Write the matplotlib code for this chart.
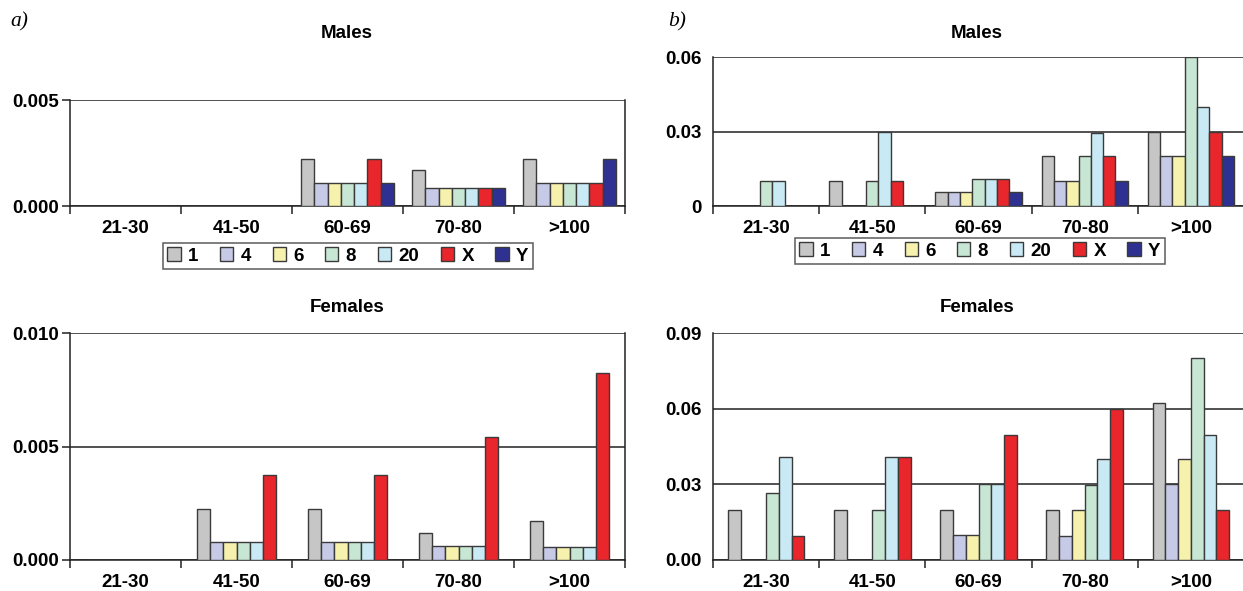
import numpy as np
import matplotlib.pyplot as plt
from matplotlib.patches import Patch

plt.rcParams['font.family'] = ['Liberation Sans', 'DejaVu Sans']
plt.rcParams['font.weight'] = 'bold'

groups = ["21-30", "41-50", "60-69", "70-80", ">100"]
series = ["1", "4", "6", "8", "20", "X", "Y"]
colors = ["#C6C6C6", "#C7CAE6", "#F6F2AE", "#C8E6D4", "#C9EAF4", "#E8262C", "#2E3192"]

# panel a, males (rows = series 1,4,6,8,20,X,Y)
a_males = [
    [0, 0, 0.0022, 0.0017, 0.0022],
    [0, 0, 0.0011, 0.00085, 0.0011],
    [0, 0, 0.0011, 0.00085, 0.0011],
    [0, 0, 0.0011, 0.00085, 0.0011],
    [0, 0, 0.0011, 0.00085, 0.0011],
    [0, 0, 0.0022, 0.00085, 0.0011],
    [0, 0, 0.0011, 0.00085, 0.0022],
]
# panel a, females (series 1,4,6,8,20,X)
a_females = [
    [0, 0.00225, 0.00225, 0.0012, 0.0017],
    [0, 0.00078, 0.00078, 0.00063, 0.00057],
    [0, 0.00078, 0.00078, 0.00063, 0.00057],
    [0, 0.00078, 0.00078, 0.00063, 0.00057],
    [0, 0.00078, 0.00078, 0.00063, 0.00057],
    [0, 0.00373, 0.00373, 0.00542, 0.00824],
]
# panel b, males
b_males = [
    [0, 0.01, 0.0055, 0.02, 0.03],
    [0, 0, 0.0055, 0.01, 0.02],
    [0, 0, 0.0055, 0.01, 0.02],
    [0.01, 0.01, 0.011, 0.02, 0.06],
    [0.01, 0.03, 0.011, 0.0294, 0.04],
    [0, 0.01, 0.011, 0.02, 0.03],
    [0, 0, 0.0055, 0.01, 0.02],
]
# panel b, females
b_females = [
    [0.02, 0.02, 0.02, 0.02, 0.0624],
    [0, 0, 0.0101, 0.0096, 0.03],
    [0, 0, 0.0101, 0.02, 0.0401],
    [0.0264, 0.02, 0.03, 0.0296, 0.08],
    [0.0409, 0.041, 0.03, 0.0401, 0.0497],
    [0.0096, 0.041, 0.0497, 0.06, 0.02],
]

W, H = 1243, 591
FS = 13.5
fig = plt.figure(figsize=(W / 100, H / 100), dpi=100)


def px_axes(left, top, right, bottom):
    return fig.add_axes([left / W, 1 - bottom / H, (right - left) / W, (bottom - top) / H])


def draw(ax, values, ymax, yticks, ylabels, width, ytick_len, right_spine=True):
    x = np.arange(len(groups))
    n = len(values)
    for i, vals in enumerate(values):
        ax.bar(x - width * n / 2 + width * (i + 0.5), vals, width,
               color=colors[i], edgecolor="#3a3a3a", linewidth=1.0, zorder=3)
    ax.set_xlim(-0.5, len(groups) - 0.5)
    ax.set_ylim(0, ymax)
    ax.set_yticks(yticks)
    ax.set_yticklabels(ylabels)
    ax.yaxis.grid(True, color="#222222", linewidth=1.1)
    ax.set_axisbelow(True)
    ax.spines["top"].set_visible(False)
    ax.spines["right"].set_visible(right_spine)
    for s in ["left", "bottom", "right"]:
        ax.spines[s].set_color("#222222")
        ax.spines[s].set_linewidth(1.1)
    ax.set_xticks(np.arange(-0.5, len(groups), 1))
    ax.set_xticklabels([])
    ax.set_xticks(x, minor=True)
    ax.set_xticklabels(groups, minor=True)
    ax.tick_params(axis="x", which="major", length=6, width=1.1, color="#222222")
    ax.tick_params(axis="x", which="minor", length=0, pad=10, labelsize=FS)
    ax.tick_params(axis="y", length=ytick_len, width=1.1, color="#222222",
                   pad=2 if ytick_len else 8, labelsize=FS)
    for lab in ax.get_xticklabels(minor=True) + ax.get_yticklabels():
        lab.set_fontweight("bold")


ax1 = px_axes(70, 100, 625, 206)
draw(ax1, a_males, 0.005, [0, 0.005], ["0.000", "0.005"], 0.119, 6)
ax2 = px_axes(713, 57, 1244, 206)
draw(ax2, b_males, 0.06, [0, 0.03, 0.06], ["0", "0.03", "0.06"], 0.116, 0, False)
ax3 = px_axes(70, 333, 625, 560)
draw(ax3, a_females, 0.010, [0, 0.005, 0.010], ["0.000", "0.005", "0.010"], 0.12, 6)
ax4 = px_axes(713, 333, 1244, 560)
draw(ax4, b_females, 0.09, [0, 0.03, 0.06, 0.09], ["0.00", "0.03", "0.06", "0.09"], 0.12, 0, False)

for xc, yc, t in [(347, 33, "Males"), (977, 33, "Males"), (347, 308, "Females"), (977, 308, "Females")]:
    fig.text(xc / W, 1 - yc / H, t, ha="center", va="center", fontsize=FS, fontweight="bold")

fig.text(10 / W, 1 - 22 / H, "a)", family="Liberation Serif", style="italic",
         fontweight="normal", fontsize=15.5, ha="left", va="center")
fig.text(668 / W, 1 - 22 / H, "b)", family="Liberation Serif", style="italic",
         fontweight="normal", fontsize=15.5, ha="left", va="center")

handles = [Patch(facecolor=c, edgecolor="#3a3a3a", linewidth=1.0) for c in colors]
for xc, yc in [(348, 256), (980, 251)]:
    leg = fig.legend(handles, series, loc="center", bbox_to_anchor=(xc / W, 1 - yc / H),
                     ncol=7, frameon=True, fancybox=False, handlelength=0.7, handleheight=0.7,
                     handletextpad=0.4, columnspacing=1.15, borderpad=0.25, borderaxespad=0,
                     prop={"weight": "bold", "size": FS})
    leg.get_frame().set_edgecolor("#333333")
    leg.get_frame().set_linewidth(1.1)

fig.savefig("out.png", dpi=100)
